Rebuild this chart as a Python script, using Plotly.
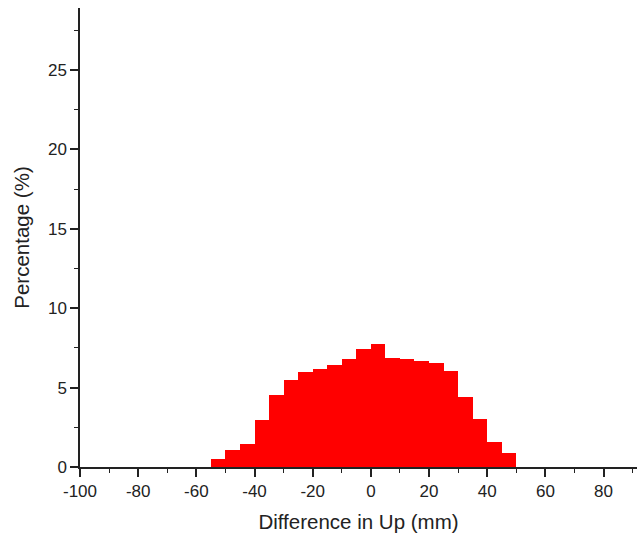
import plotly.graph_objects as go

bin_left = [-55, -50, -45, -40, -35, -30, -25, -20, -15, -10, -5, 0, 5, 10, 15, 20, 25, 30, 35, 40, 45]
percent = [0.52, 1.09, 1.45, 2.94, 4.51, 5.45, 5.97, 6.18, 6.43, 6.83, 7.42, 7.75, 6.86, 6.77, 6.68, 6.56, 6.06, 4.42, 3.04, 1.55, 0.88]
bin_width = 5

x_tickvals = [-100, -80, -60, -40, -20, 0, 20, 40, 60, 80]
x_ticktext = ["-100", "-80", "-60", "-40", "-20", "0", "20", "40", "60", "80"]
y_tickvals = [0, 5, 10, 15, 20, 25]
y_ticktext = ["0", "5", "10", "15", "20", "25"]

centers = [b + bin_width / 2 for b in bin_left]

fig = go.Figure(go.Bar(
    x=centers, y=percent, width=bin_width,
    marker=dict(color="#ff0000", line=dict(width=0)),
))

font = "Liberation Sans, Arial, sans-serif"
fig.update_layout(
    width=639, height=543,
    margin=dict(l=80, r=2, t=8, b=76),
    paper_bgcolor="white", plot_bgcolor="white",
    showlegend=False, bargap=0,
    font=dict(family=font, size=17, color="#222"),
    xaxis=dict(
        range=[-100, 91.5], tickvals=x_tickvals, ticktext=x_ticktext,
        showgrid=False, zeroline=False,
        showline=True, linecolor="#222", linewidth=1.5,
        ticks="outside", ticklen=8, tickwidth=1.5, tickcolor="#222",
        minor=dict(dtick=10, tick0=0, ticks="outside", ticklen=4, tickwidth=1.2, tickcolor="#222", showgrid=False),
        title=dict(text="Difference in Up (mm)", font=dict(size=20.5, family=font, color="#222"), standoff=14),
    ),
    yaxis=dict(
        range=[0, 28.9], tickvals=y_tickvals, ticktext=y_ticktext,
        showgrid=False, zeroline=False,
        showline=True, linecolor="#222", linewidth=1.5,
        ticks="outside", ticklen=8, tickwidth=1.5, tickcolor="#222",
        minor=dict(dtick=2.5, tick0=0, ticks="outside", ticklen=4, tickwidth=1.2, tickcolor="#222", showgrid=False),
        title=dict(text="Percentage (%)", font=dict(size=20.5, family=font, color="#222"), standoff=13),
    ),
)

fig.write_html("out.html")
